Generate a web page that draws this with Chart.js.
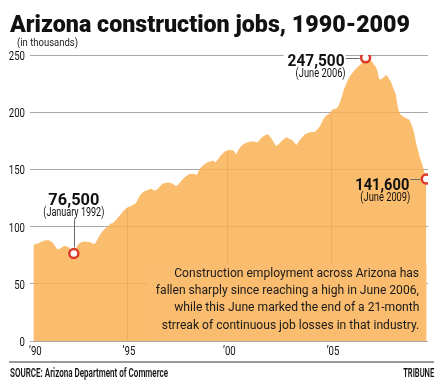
<!DOCTYPE html>
<html>
<head>
<meta charset="utf-8">
<script src="https://cdn.jsdelivr.net/npm/chart.js@4.4.0/dist/chart.umd.min.js"></script>
<style>
    html, body { margin: 0; padding: 0; background: #fff; }
    #contenedor { position: relative; width: 445px; height: 389px; overflow: hidden; font-family: Roboto, "Liberation Sans", sans-serif; color: #111; }
    #canvas_grafica { position: absolute; left: 0; top: 0; }
    .texto { position: absolute; white-space: nowrap; line-height: 1; }
    #titulo { left: 10px; top: 12px; font-size: 24px; font-weight: 900; }
    #subtitulo { left: 17px; top: 36.5px; font-size: 11px; font-family: "Liberation Sans Narrow", Roboto, sans-serif; color: #222; }
    .parrafo { right: 26px; font-size: 12.5px; font-family: "Liberation Sans Narrow", Roboto, sans-serif; color: #1a1a1a; }
    #linea_fuente { position: absolute; left: 9px; top: 361px; width: 425px; height: 2px; background: #9a9a9a; }
    #fuente { left: 10px; top: 366.5px; font-size: 12px; font-weight: 600; font-family: "Liberation Sans Narrow", Roboto, sans-serif; color: #111; }
    #credito { right: 11px; top: 366.5px; font-size: 12px; font-weight: 600; font-family: "Liberation Sans Narrow", Roboto, sans-serif; color: #111; }
</style>
</head>
<body>
<div id="contenedor">
    <canvas id="canvas_grafica" width="445" height="389"></canvas>
    <div class="texto" id="titulo">Arizona construction jobs, 1990-2009</div>
    <div class="texto" id="subtitulo">(in thousands)</div>
    <div class="texto parrafo" id="p1" style="top: 266.5px;">Construction employment across Arizona has</div>
    <div class="texto parrafo" id="p2" style="top: 283.5px;">fallen sharply since reaching a high in June 2006,</div>
    <div class="texto parrafo" id="p3" style="top: 301px;">while this June marked the end of a 21-month</div>
    <div class="texto parrafo" id="p4" style="top: 318.5px;">strreak of continuous job losses in that industry.</div>
    <div id="linea_fuente"></div>
    <div class="texto" id="fuente">SOURCE: Arizona Department of Commerce</div>
    <div class="texto" id="credito">TRIBUNE</div>
</div>
<script>
// Empleos en construcción (miles), mensual desde enero 1990 hasta junio 2009
const empleo_mensual = [
    84, 84.5, 85, 85.5, 86, 87, 87.5, 88, 88, 88, 87.5, 86.5,                       // 1990
    85, 82.5, 80.5, 80, 81, 82, 83, 83, 82.5, 82, 80, 79,                           // 1991
    76.5, 80, 83, 85, 86, 86.5, 87, 87, 86.5, 86.5, 86, 85.5,                       // 1992
    84.5, 86, 89, 91.5, 94, 96, 97.5, 99, 100, 101.5, 102.8, 103,                   // 1993
    104.5, 105.7, 107.5, 109.5, 111, 113, 114.5, 116, 117, 117.5, 118, 119,         // 1994
    119.5, 121, 124, 127, 128.5, 130, 131, 131.5, 132, 132.8, 133, 132,             // 1995
    131.5, 132, 133.5, 135, 136.5, 137.8, 138, 138.4, 138.5, 138.4, 138, 137,       // 1996
    136, 135.7, 137, 138.7, 140.5, 142, 143.6, 144.5, 145.5, 146, 146, 146.2,       // 1997
    145.5, 145, 148.5, 151, 152.5, 154, 155, 156, 156.7, 157, 157.5, 157.6,         // 1998
    156, 158, 160, 162, 163.5, 165, 166, 166.5, 167, 167, 166.8, 166.4,             // 1999
    163, 165.5, 168, 170, 171.4, 172.5, 173, 173.7, 174, 174.3, 174.3, 174.3,       // 2000
    174, 173.7, 175.5, 177.2, 178.5, 179.5, 180.2, 180.7, 179.5, 177.2, 175, 172.5, // 2001
    170.5, 171.5, 172.9, 174.5, 175.8, 177, 178.1, 177.5, 176.6, 176, 174.9, 173,   // 2002
    171.4, 173.5, 175.8, 177.5, 179, 180.7, 181.3, 182, 182.5, 182.7, 182.8, 183,   // 2003
    184.5, 186, 188, 191, 194, 196.1, 197.5, 198.2, 200, 202, 202.5, 203,           // 2004
    203.5, 206, 209.3, 214, 219.5, 223, 226.8, 229.5, 232, 234.1, 236, 237.5,       // 2005
    239, 240.5, 241.4, 243.5, 245.5, 247.5, 247, 246, 245, 244, 241.5, 239.8,       // 2006
    236, 229, 228.5, 229.7, 231, 232.5, 231.5, 229, 226.8, 222.4, 219, 215.1,       // 2007
    205, 200, 197.6, 196.5, 195.5, 194.7, 194, 193.3, 190, 186, 180, 172.9,         // 2008
    167, 161, 157, 152.4, 147, 141.6                                                // 2009
];

// Posición (índice de mes) de las líneas de año tal como aparecen en el gráfico
const ticks_anios = [0, 55.5, 115, 176.5];
const etiquetas_anios = ['’90', '’95', '’00', '’05'];
const ticks_y = [0, 50, 100, 150, 200, 250];

// Puntos destacados
const marcadores_indice = [24, 197, 233];
const marcadores_valor = [76.5, 247.5, 141.6];
const marcadores_cifra = ['76,500', '247,500', '141,600'];
const marcadores_fecha = ['(January 1992)', '(June 2006)', '(June 2009)'];

const puntos_empleo = empleo_mensual.map((v, i) => ({ x: i, y: v }));
const puntos_marcadores = marcadores_indice.map((m, i) => ({ x: m, y: marcadores_valor[i] }));

const color_area = 'rgba(249, 176, 84, 0.85)';
const color_caja = '#fabc6e';
const fuente_estrecha = '"Liberation Sans Narrow", Roboto, sans-serif';

// Dibuja texto ajustado a un ancho dado (tipografía condensada)
function texto_ajustado(ctx, texto, x, y, ancho, fuente, alineacion) {
    ctx.save();
    ctx.font = fuente;
    const w = ctx.measureText(texto).width;
    texto_escalado(ctx, texto, x, y, ancho / w, fuente, alineacion);
    ctx.restore();
}

function texto_escalado(ctx, texto, x, y, escala, fuente, alineacion) {
    ctx.save();
    ctx.font = fuente;
    ctx.translate(x, y);
    ctx.scale(escala, 1);
    ctx.textAlign = alineacion;
    ctx.textBaseline = 'alphabetic';
    ctx.fillStyle = '#111';
    ctx.fillText(texto, 0, 0);
    ctx.restore();
}

function valor_en(t) {
    const a = Math.floor(t);
    const b = Math.min(Math.ceil(t), empleo_mensual.length - 1);
    return empleo_mensual[a] + (t - a) * (empleo_mensual[b] - empleo_mensual[a]);
}

const plugin_decoracion = {
    id: 'decoracion',
    beforeDatasetsDraw(chart) {
        // líneas verticales de año, solo bajo el área
        const { ctx, scales: { x, y } } = chart;
        ctx.save();
        ctx.strokeStyle = '#a8a8a8';
        ctx.lineWidth = 1;
        ticks_anios.slice(1).forEach(t => {
            const px = Math.round(x.getPixelForValue(t)) + 0.5;
            ctx.beginPath();
            ctx.moveTo(px, y.bottom);
            ctx.lineTo(px, y.getPixelForValue(valor_en(t)) + 1);
            ctx.stroke();
        });
        ctx.restore();
    },
    afterDatasetsDraw(chart) {
        const { ctx, scales: { x, y } } = chart;
        const fuente_ticks = '12px Roboto, sans-serif';

        // etiquetas de los ejes
        ticks_y.forEach(v => {
            texto_escalado(ctx, String(v), 25, y.getPixelForValue(v) + 5, 0.8, fuente_ticks, 'right');
        });
        ticks_anios.forEach((t, i) => {
            texto_escalado(ctx, etiquetas_anios[i], x.getPixelForValue(t) + 2, 355, 0.8, fuente_ticks, 'center');
        });

        // caja del texto explicativo
        const borde_derecho = x.getPixelForValue(empleo_mensual.length - 1);
        ctx.save();
        ctx.fillStyle = color_caja;
        ctx.fillRect(147, 263, borde_derecho - 147, y.bottom - 263 - 1);
        ctx.restore();

        // líneas guía y etiquetas de los marcadores
        const pos = marcadores_indice.map((m, i) => ({ mx: x.getPixelForValue(m), my: y.getPixelForValue(marcadores_valor[i]) }));
        ctx.save();
        ctx.fillStyle = '#ffffff';
        ctx.fillRect(pos[1].mx - 82, pos[1].my - 6, 62, 6);
        ctx.strokeStyle = '#6a6a6a';
        ctx.lineWidth = 1;
        ctx.beginPath();
        ctx.moveTo(Math.round(pos[0].mx) + 0.5, pos[0].my - 34);
        ctx.lineTo(Math.round(pos[0].mx) + 0.5, pos[0].my - 6);
        ctx.moveTo(pos[1].mx - 20, Math.round(pos[1].my) + 0.5);
        ctx.lineTo(pos[1].mx - 6, Math.round(pos[1].my) + 0.5);
        ctx.moveTo(pos[2].mx - 16, Math.round(pos[2].my) + 0.5);
        ctx.lineTo(pos[2].mx - 6, Math.round(pos[2].my) + 0.5);
        ctx.stroke();
        ctx.restore();

        const fuente_cifra = 'bold 17px Roboto, sans-serif';
        const fuente_fecha = '12px ' + fuente_estrecha;
        texto_ajustado(ctx, marcadores_cifra[0], pos[0].mx, pos[0].my - 48, 51, fuente_cifra, 'center');
        texto_ajustado(ctx, marcadores_fecha[0], pos[0].mx, pos[0].my - 37, 61, fuente_fecha, 'center');
        texto_ajustado(ctx, marcadores_cifra[1], pos[1].mx - 21, pos[1].my + 8, 57, fuente_cifra, 'right');
        texto_ajustado(ctx, marcadores_fecha[1], pos[1].mx - 20, pos[1].my + 19, 50, fuente_fecha, 'right');
        texto_ajustado(ctx, marcadores_cifra[2], pos[2].mx - 17, pos[2].my + 11, 54, fuente_cifra, 'right');
        texto_ajustado(ctx, marcadores_fecha[2], pos[2].mx - 16, pos[2].my + 22, 50, fuente_fecha, 'right');
    }
};

const ctx = document.getElementById('canvas_grafica').getContext('2d');

const canvas_grafica = new Chart(ctx, {
    type: 'line',
    data: {
        datasets: [{
            data: puntos_marcadores,
            showLine: false,
            pointRadius: 4.5,
            pointBorderWidth: 2.5,
            pointBackgroundColor: '#ffffff',
            pointBorderColor: '#dc3a28',
            order: 0
        }, {
            data: puntos_empleo,
            fill: 'origin',
            backgroundColor: color_area,
            borderWidth: 0,
            pointRadius: 0,
            tension: 0,
            order: 1
        }]
    },
    options: {
        responsive: false,
        animation: false,
        devicePixelRatio: 1,
        layout: { padding: { top: 55, right: 17, left: 0, bottom: 0 } },
        plugins: {
            legend: { display: false },
            tooltip: { enabled: false }
        },
        scales: {
            x: {
                type: 'linear',
                min: -2,
                max: 234,
                afterBuildTicks: (escala) => {
                    escala.ticks = ticks_anios.map(v => ({ value: v }));
                },
                afterFit: (escala) => { escala.height = 48; },
                grid: { display: false },
                border: { display: false },
                ticks: { display: false }
            },
            y: {
                min: 0,
                max: 250,
                afterBuildTicks: (escala) => {
                    escala.ticks = ticks_y.map(v => ({ value: v }));
                },
                afterFit: (escala) => { escala.width = 30; },
                grid: { color: '#a8a8a8', lineWidth: 1, drawTicks: false },
                border: { display: false },
                ticks: { display: false }
            }
        }
    },
    plugins: [plugin_decoracion]
});

// Textos HTML condensados al ancho del original
function ajustar_ancho(id, ancho, origen) {
    const el = document.getElementById(id);
    const w = el.getBoundingClientRect().width;
    el.style.transformOrigin = origen + ' top';
    el.style.transform = `scaleX(${ancho / w})`;
    return ancho / w;
}

ajustar_ancho('titulo', 400, 'left');
ajustar_ancho('subtitulo', 61, 'left');
ajustar_ancho('fuente', 158, 'left');
ajustar_ancho('credito', 31, 'right');
const escala_parrafo = 263 / document.getElementById('p2').getBoundingClientRect().width;
['p1', 'p2', 'p3', 'p4'].forEach(id => {
    const el = document.getElementById(id);
    el.style.transformOrigin = 'right top';
    el.style.transform = `scaleX(${escala_parrafo})`;
});
</script>
</body>
</html>
